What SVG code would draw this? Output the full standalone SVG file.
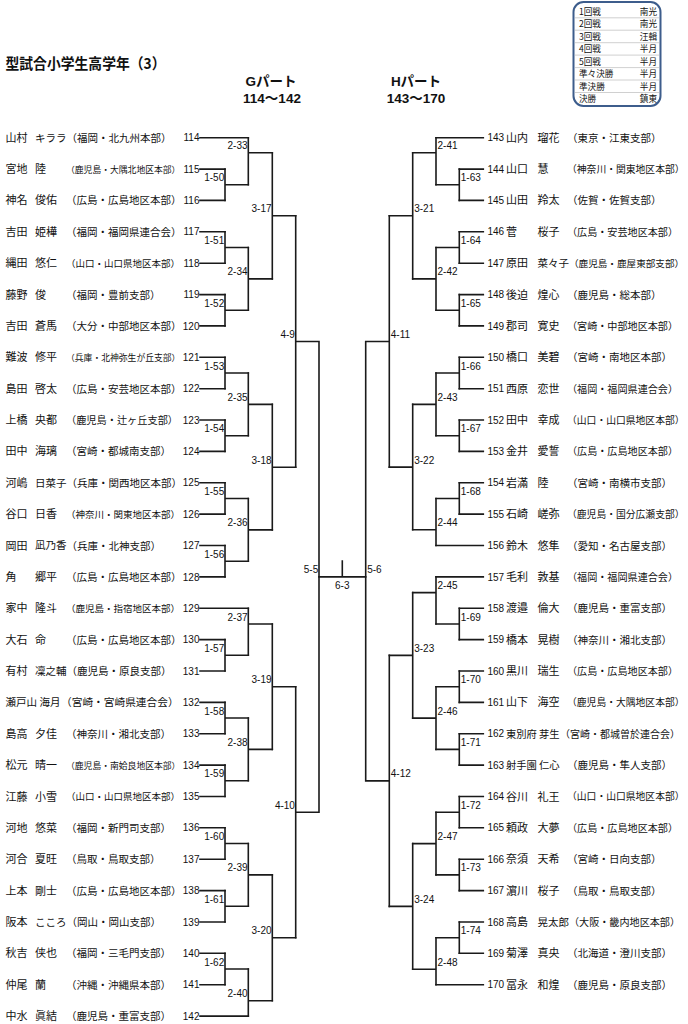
<svg xmlns="http://www.w3.org/2000/svg" width="688" height="1024" viewBox="0 0 688 1024">
<style>
.t{font-family:"Noto Sans CJK JP","Noto Sans",sans-serif;fill:#111}
.nm{font-size:11px}
.n3{font-size:10.5px}
.af{font-size:10.5px}
.a12{font-size:9.5px}
.a13{font-size:8.8px}
.r11{font-size:10.1px}
.r12{font-size:9.8px}
.num{font-family:"Liberation Sans",Arial,sans-serif;font-size:10px;fill:#111}
.lb{font-family:"Liberation Sans",Arial,sans-serif;font-size:10px;fill:#111}
.le{text-anchor:end}
.hd{font-family:"Liberation Sans","Noto Sans CJK JP",sans-serif;font-size:13.5px;font-weight:bold;text-anchor:middle;fill:#111}
.ln{fill:none;stroke:#1a1a1a;stroke-width:1.6;stroke-linecap:square}
.lg{font-family:"Noto Sans CJK JP",sans-serif;font-size:8.6px;fill:#111}
</style>
<rect width="688" height="1024" fill="#fff"/>
<g id="title"><text class="t" x="5.5" y="69" font-size="15" font-weight="bold" textLength="160" lengthAdjust="spacingAndGlyphs">型試合小学生高学年（3）</text></g>
<g id="header-g"><text class="hd" x="271" y="86">Gパート</text><text class="hd" x="272" y="103">114〜142</text></g>
<g id="header-h"><text class="hd" x="416" y="86">Hパート</text><text class="hd" x="416" y="103">143〜170</text></g>
<g id="legend">
<rect x="573.5" y="2" width="87" height="104" rx="10" fill="#fff" stroke="#3d5d8c" stroke-width="2"/>
<path d="M575 17.8H659M575 30.2H659M575 42.7H659M575 55.1H659M575 67.6H659M575 80H659M575 92.5H659" stroke="#c4c4c4" stroke-width="0.8" fill="none"/>
<text class="lg" x="579" y="14.9">1回戦</text><text class="lg le" x="657" y="14.9">南光</text>
<text class="lg" x="579" y="27.3">2回戦</text><text class="lg le" x="657" y="27.3">南光</text>
<text class="lg" x="579" y="39.7">3回戦</text><text class="lg le" x="657" y="39.7">汪輯</text>
<text class="lg" x="579" y="52.2">4回戦</text><text class="lg le" x="657" y="52.2">半月</text>
<text class="lg" x="579" y="64.6">5回戦</text><text class="lg le" x="657" y="64.6">半月</text>
<text class="lg" x="579" y="77.1">準々決勝</text><text class="lg le" x="657" y="77.1">半月</text>
<text class="lg" x="579" y="89.5">準決勝</text><text class="lg le" x="657" y="89.5">半月</text>
<text class="lg" x="579" y="102">決勝</text><text class="lg le" x="657" y="102">鎮東</text>
</g>
<g id="connectors" class="ln">
<path d="M200 137.7H248.3M200 169.1H225M200 200.4H225M200 231.8H225M200 263.2H225M200 294.6H225M200 325.9H225M200 357.3H225M200 388.7H225M200 420H225M200 451.4H225M200 482.8H225M200 514.1H225M200 545.5H225M200 576.9H225M200 608.3H248.3M200 639.6H225M200 671H225M200 702.4H225M200 733.7H225M200 765.1H225M200 796.5H225M200 827.8H225M200 859.2H225M200 890.6H225M200 922H225M200 953.3H225M200 984.7H225M200 1016.1H248.3"/>
<path d="M225 169.1V200.4M225 184.8H248.3M225 231.8V263.2M225 247.5H248.3M225 294.6V325.9M225 310.2H248.3M225 357.3V388.7M225 373H248.3M225 420V451.4M225 435.7H248.3M225 482.8V514.1M225 498.5H248.3M225 545.5V576.9M225 561.2H248.3M225 639.6V671M225 655.3H248.3M225 702.4V733.7M225 718H248.3M225 765.1V796.5M225 780.8H248.3M225 827.8V859.2M225 843.5H248.3M225 890.6V922M225 906.3H248.3M225 953.3V984.7M225 969H248.3"/>
<path d="M248.3 137.7V184.8M248.3 152.7H272.3M248.3 247.5V310.2M248.3 278.9H272.3M248.3 373V435.7M248.3 404.4H272.3M248.3 498.5V561.2M248.3 529.9H272.3M248.3 608.3V655.3M248.3 624H272.3M248.3 718V780.8M248.3 749.4H272.3M248.3 843.5V906.3M248.3 874.9H272.3M248.3 969V1016.1M248.3 1000.7H272.3"/>
<path d="M272.3 152.7V278.9M272.3 215.8H295.7M272.3 404.4V529.9M272.3 467.2H295.7M272.3 624V749.4M272.3 686.7H295.7M272.3 874.9V1000.7M272.3 937.8H295.7"/>
<path d="M295.7 215.8V467.2M295.7 341.5H319M295.7 686.7V937.8M295.7 812.3H319M319 341.5V812.3"/>
<path d="M319 576.9H365.7M342.3 561V576.9"/>
<path d="M483.3 137.7H436M483.3 169.1H459.3M483.3 200.4H459.3M483.3 231.8H459.3M483.3 263.2H459.3M483.3 294.6H459.3M483.3 325.9H459.3M483.3 357.3H459.3M483.3 388.7H459.3M483.3 420H459.3M483.3 451.4H459.3M483.3 482.8H459.3M483.3 514.1H459.3M483.3 545.5H436M483.3 576.9H436M483.3 608.3H459.3M483.3 639.6H459.3M483.3 671H459.3M483.3 702.4H459.3M483.3 733.7H459.3M483.3 765.1H459.3M483.3 796.5H459.3M483.3 827.8H459.3M483.3 859.2H459.3M483.3 890.6H459.3M483.3 922H459.3M483.3 953.3H459.3M483.3 984.7H436"/>
<path d="M459.3 169.1V200.4M459.3 184.8H436M459.3 231.8V263.2M459.3 247.5H436M459.3 294.6V325.9M459.3 310.2H436M459.3 357.3V388.7M459.3 373H436M459.3 420V451.4M459.3 435.7H436M459.3 482.8V514.1M459.3 498.5H436M459.3 608.3V639.6M459.3 624H436M459.3 671V702.4M459.3 686.7H436M459.3 733.7V765.1M459.3 749.4H436M459.3 796.5V827.8M459.3 812.2H436M459.3 859.2V890.6M459.3 874.9H436M459.3 922V953.3M459.3 937.7H436"/>
<path d="M436 137.7V184.8M436 152.7H412.7M436 247.5V310.2M436 278.9H412.7M436 373V435.7M436 404.4H412.7M436 498.5V545.5M436 529.8H412.7M436 576.9V624M436 592.6H412.7M436 686.7V749.4M436 718.1H412.7M436 812.2V874.9M436 843.6H412.7M436 937.7V984.7M436 969.2H412.7"/>
<path d="M412.7 152.7V278.9M412.7 215.8H389.3M412.7 404.4V529.8M412.7 467.1H389.3M412.7 592.6V718.1M412.7 655.4H389.3M412.7 843.6V969.2M412.7 906.4H389.3"/>
<path d="M389.3 215.8V467.1M389.3 341.5H365.7M389.3 655.4V906.4M389.3 780.9H365.7M365.7 341.5V780.9"/>
</g>
<g id="match-labels">
<g class="lb le">
<text x="224.2" y="181.3">1-50</text><text x="224.2" y="244">1-51</text><text x="224.2" y="306.7">1-52</text><text x="224.2" y="369.5">1-53</text><text x="224.2" y="432.2">1-54</text><text x="224.2" y="495">1-55</text><text x="224.2" y="557.7">1-56</text><text x="224.2" y="651.8">1-57</text><text x="224.2" y="714.5">1-58</text><text x="224.2" y="777.3">1-59</text><text x="224.2" y="840">1-60</text><text x="224.2" y="902.8">1-61</text><text x="224.2" y="965.5">1-62</text>
<text x="247.5" y="149.2">2-33</text><text x="247.5" y="275.4">2-34</text><text x="247.5" y="400.9">2-35</text><text x="247.5" y="526.4">2-36</text><text x="247.5" y="620.5">2-37</text><text x="247.5" y="745.9">2-38</text><text x="247.5" y="871.4">2-39</text><text x="247.5" y="997.2">2-40</text>
<text x="271.5" y="212.3">3-17</text><text x="271.5" y="463.7">3-18</text><text x="271.5" y="683.2">3-19</text><text x="271.5" y="934.3">3-20</text>
<text x="294.9" y="338">4-9</text><text x="294.9" y="808.8">4-10</text>
<text x="318.2" y="573.4">5-5</text>
</g>
<g class="lb">
<text x="460.8" y="181.3">1-63</text><text x="460.8" y="244">1-64</text><text x="460.8" y="306.7">1-65</text><text x="460.8" y="369.5">1-66</text><text x="460.8" y="432.2">1-67</text><text x="460.8" y="495">1-68</text><text x="460.8" y="620.5">1-69</text><text x="460.8" y="683.2">1-70</text><text x="460.8" y="745.9">1-71</text><text x="460.8" y="808.7">1-72</text><text x="460.8" y="871.4">1-73</text><text x="460.8" y="934.2">1-74</text>
<text x="437.5" y="149.2">2-41</text><text x="437.5" y="275.4">2-42</text><text x="437.5" y="400.9">2-43</text><text x="437.5" y="526.3">2-44</text><text x="437.5" y="589.1">2-45</text><text x="437.5" y="714.6">2-46</text><text x="437.5" y="840.1">2-47</text><text x="437.5" y="965.7">2-48</text>
<text x="414.2" y="212.3">3-21</text><text x="414.2" y="463.6">3-22</text><text x="414.2" y="651.9">3-23</text><text x="414.2" y="902.9">3-24</text>
<text x="390.8" y="338">4-11</text><text x="390.8" y="777.4">4-12</text>
<text x="367.2" y="573.4">5-6</text>
<text x="342.3" y="589" text-anchor="middle">6-3</text>
</g>
</g>
<g id="e114"><text class="t nm" x="5.5" y="141.7">山村</text><text class="t n3" x="35" y="141.6">キララ</text><text class="t af" x="66.5" y="141.7">（福岡・北九州本部）</text><text class="num le" x="199.5" y="141.3">114</text></g>
<g id="e115"><text class="t nm" x="5.5" y="173.1">宮地</text><text class="t nm" x="35" y="173.1">陸</text><text class="t a13" x="66" y="172.8">（鹿児島・大隅北地区本部）</text><text class="num le" x="199.5" y="172.7">115</text></g>
<g id="e116"><text class="t nm" x="5.5" y="204.4">神名</text><text class="t nm" x="35" y="204.4">俊佑</text><text class="t af" x="66" y="204.4">（広島・広島地区本部）</text><text class="num le" x="199.5" y="204">116</text></g>
<g id="e117"><text class="t nm" x="5.5" y="235.8">吉田</text><text class="t nm" x="35" y="235.8">姫樺</text><text class="t af" x="66" y="235.8">（福岡・福岡県連合会）</text><text class="num le" x="199.5" y="235.4">117</text></g>
<g id="e118"><text class="t nm" x="5.5" y="267.2">縄田</text><text class="t nm" x="35" y="267.2">悠仁</text><text class="t a12" x="66" y="267">（山口・山口県地区本部）</text><text class="num le" x="199.5" y="266.8">118</text></g>
<g id="e119"><text class="t nm" x="5.5" y="298.6">藤野</text><text class="t nm" x="35" y="298.6">俊</text><text class="t af" x="66" y="298.6">（福岡・豊前支部）</text><text class="num le" x="199.5" y="298.2">119</text></g>
<g id="e120"><text class="t nm" x="5.5" y="329.9">吉田</text><text class="t nm" x="35" y="329.9">蒼馬</text><text class="t af" x="66" y="329.9">（大分・中部地区本部）</text><text class="num le" x="199.5" y="329.5">120</text></g>
<g id="e121"><text class="t nm" x="5.5" y="361.3">難波</text><text class="t nm" x="35" y="361.3">修平</text><text class="t a13" x="66" y="361">（兵庫・北神弥生が丘支部）</text><text class="num le" x="199.5" y="360.9">121</text></g>
<g id="e122"><text class="t nm" x="5.5" y="392.7">島田</text><text class="t nm" x="35" y="392.7">啓太</text><text class="t af" x="66" y="392.7">（広島・安芸地区本部）</text><text class="num le" x="199.5" y="392.3">122</text></g>
<g id="e123"><text class="t nm" x="5.5" y="424">上橋</text><text class="t nm" x="35" y="424">央都</text><text class="t af" x="66" y="424" style="font-size:10.2px">（鹿児島・辻ヶ丘支部）</text><text class="num le" x="199.5" y="423.6">123</text></g>
<g id="e124"><text class="t nm" x="5.5" y="455.4">田中</text><text class="t nm" x="35" y="455.4">海璃</text><text class="t af" x="66" y="455.4">（宮崎・都城南支部）</text><text class="num le" x="199.5" y="455">124</text></g>
<g id="e125"><text class="t nm" x="5.5" y="486.8">河嶋</text><text class="t n3" x="35" y="486.7">日菜子</text><text class="t af" x="66.5" y="486.8">（兵庫・関西地区本部）</text><text class="num le" x="199.5" y="486.4">125</text></g>
<g id="e126"><text class="t nm" x="5.5" y="518.1">谷口</text><text class="t nm" x="35" y="518.1">日香</text><text class="t a12" x="66" y="517.9">（神奈川・関東地区本部）</text><text class="num le" x="199.5" y="517.7">126</text></g>
<g id="e127"><text class="t nm" x="5.5" y="549.5">岡田</text><text class="t n3" x="35" y="549.4">凪乃香</text><text class="t af" x="66.5" y="549.5">（兵庫・北神支部）</text><text class="num le" x="199.5" y="549.1">127</text></g>
<g id="e128"><text class="t nm" x="5.5" y="580.9">角</text><text class="t nm" x="35" y="580.9">郷平</text><text class="t af" x="66" y="580.9">（広島・広島地区本部）</text><text class="num le" x="199.5" y="580.5">128</text></g>
<g id="e129"><text class="t nm" x="5.5" y="612.3">家中</text><text class="t nm" x="35" y="612.3">隆斗</text><text class="t a12" x="66" y="612.1">（鹿児島・指宿地区本部）</text><text class="num le" x="199.5" y="611.9">129</text></g>
<g id="e130"><text class="t nm" x="5.5" y="643.6">大石</text><text class="t nm" x="35" y="643.6">命</text><text class="t af" x="66" y="643.6">（広島・広島地区本部）</text><text class="num le" x="199.5" y="643.2">130</text></g>
<g id="e131"><text class="t nm" x="5.5" y="675">有村</text><text class="t n3" x="35" y="674.9">凜之輔</text><text class="t af" x="66.5" y="675">（鹿児島・原良支部）</text><text class="num le" x="199.5" y="674.6">131</text></g>
<g id="e132"><text class="t n3" x="5.5" y="706.3">瀬戸山</text><text class="t n3" x="39.5" y="706.3">海月</text><text class="t af" x="61" y="706.4" style="font-size:10.7px">（宮崎・宮崎県連合会）</text><text class="num le" x="199.5" y="706">132</text></g>
<g id="e133"><text class="t nm" x="5.5" y="737.7">島高</text><text class="t nm" x="35" y="737.7">夕佳</text><text class="t af" x="66" y="737.7">（神奈川・湘北支部）</text><text class="num le" x="199.5" y="737.3">133</text></g>
<g id="e134"><text class="t nm" x="5.5" y="769.1">松元</text><text class="t nm" x="35" y="769.1">晴一</text><text class="t a13" x="66" y="768.8">（鹿児島・南姶良地区本部）</text><text class="num le" x="199.5" y="768.7">134</text></g>
<g id="e135"><text class="t nm" x="5.5" y="800.5">江藤</text><text class="t nm" x="35" y="800.5">小雪</text><text class="t a12" x="66" y="800.3">（山口・山口県地区本部）</text><text class="num le" x="199.5" y="800.1">135</text></g>
<g id="e136"><text class="t nm" x="5.5" y="831.8">河地</text><text class="t nm" x="35" y="831.8">悠菜</text><text class="t af" x="66" y="831.8">（福岡・新門司支部）</text><text class="num le" x="199.5" y="831.4">136</text></g>
<g id="e137"><text class="t nm" x="5.5" y="863.2">河合</text><text class="t nm" x="35" y="863.2">夏旺</text><text class="t af" x="66" y="863.2">（鳥取・鳥取支部）</text><text class="num le" x="199.5" y="862.8">137</text></g>
<g id="e138"><text class="t nm" x="5.5" y="894.6">上本</text><text class="t nm" x="35" y="894.6">剛士</text><text class="t af" x="66" y="894.6">（広島・広島地区本部）</text><text class="num le" x="199.5" y="894.2">138</text></g>
<g id="e139"><text class="t nm" x="5.5" y="926">阪本</text><text class="t n3" x="35" y="925.9">こころ</text><text class="t af" x="66.5" y="926">（岡山・岡山支部）</text><text class="num le" x="199.5" y="925.6">139</text></g>
<g id="e140"><text class="t nm" x="5.5" y="957.3">秋吉</text><text class="t nm" x="35" y="957.3">侠也</text><text class="t af" x="66" y="957.3">（福岡・三毛門支部）</text><text class="num le" x="199.5" y="956.9">140</text></g>
<g id="e141"><text class="t nm" x="5.5" y="988.7">仲尾</text><text class="t nm" x="35" y="988.7">蘭</text><text class="t af" x="66" y="988.7">（沖縄・沖縄県本部）</text><text class="num le" x="199.5" y="988.3">141</text></g>
<g id="e142"><text class="t nm" x="5.5" y="1020.1">中水</text><text class="t nm" x="35" y="1020.1">眞結</text><text class="t af" x="66" y="1020.1">（鹿児島・重富支部）</text><text class="num le" x="199.5" y="1019.7">142</text></g>
<g id="e143"><text class="num" x="487.5" y="141.3">143</text><text class="t nm" x="506" y="141.7">山内</text><text class="t nm" x="537.5" y="141.7">瑠花</text><text class="t af" x="567" y="141.7">（東京・江東支部）</text></g>
<g id="e144"><text class="num" x="487.5" y="172.7">144</text><text class="t nm" x="506" y="173.1">山口</text><text class="t nm" x="537.5" y="173.1">慧</text><text class="t r12" x="567" y="172.9">（神奈川・関東地区本部）</text></g>
<g id="e145"><text class="num" x="487.5" y="204">145</text><text class="t nm" x="506" y="204.4">山田</text><text class="t nm" x="537.5" y="204.4">羚太</text><text class="t af" x="567" y="204.4">（佐賀・佐賀支部）</text></g>
<g id="e146"><text class="num" x="487.5" y="235.4">146</text><text class="t nm" x="506" y="235.8">菅</text><text class="t nm" x="537.5" y="235.8">桜子</text><text class="t r11" x="567" y="235.7">（広島・安芸地区本部）</text></g>
<g id="e147"><text class="num" x="487.5" y="266.8">147</text><text class="t nm" x="506" y="267.2">原田</text><text class="t n3" x="537.5" y="267.1">菜々子</text><text class="t af" x="569" y="267" style="font-size:9.6px">（鹿児島・鹿屋東部支部）</text></g>
<g id="e148"><text class="num" x="487.5" y="298.2">148</text><text class="t nm" x="506" y="298.6">後迫</text><text class="t nm" x="537.5" y="298.6">煌心</text><text class="t af" x="567" y="298.6">（鹿児島・総本部）</text></g>
<g id="e149"><text class="num" x="487.5" y="329.5">149</text><text class="t nm" x="506" y="329.9">郡司</text><text class="t nm" x="537.5" y="329.9">寛史</text><text class="t r11" x="567" y="329.8">（宮崎・中部地区本部）</text></g>
<g id="e150"><text class="num" x="487.5" y="360.9">150</text><text class="t nm" x="506" y="361.3">橋口</text><text class="t nm" x="537.5" y="361.3">美碧</text><text class="t af" x="567" y="361.3">（宮崎・南地区本部）</text></g>
<g id="e151"><text class="num" x="487.5" y="392.3">151</text><text class="t nm" x="506" y="392.7">西原</text><text class="t nm" x="537.5" y="392.7">恋世</text><text class="t r11" x="567" y="392.6">（福岡・福岡県連合会）</text></g>
<g id="e152"><text class="num" x="487.5" y="423.6">152</text><text class="t nm" x="506" y="424">田中</text><text class="t nm" x="537.5" y="424">幸成</text><text class="t r12" x="567" y="423.8">（山口・山口県地区本部）</text></g>
<g id="e153"><text class="num" x="487.5" y="455">153</text><text class="t nm" x="506" y="455.4">金井</text><text class="t nm" x="537.5" y="455.4">愛誓</text><text class="t r11" x="567" y="455.3">（広島・広島地区本部）</text></g>
<g id="e154"><text class="num" x="487.5" y="486.4">154</text><text class="t nm" x="506" y="486.8">岩滿</text><text class="t nm" x="537.5" y="486.8">陸</text><text class="t af" x="567" y="486.8">（宮崎・南横市支部）</text></g>
<g id="e155"><text class="num" x="487.5" y="517.7">155</text><text class="t nm" x="506" y="518.1">石崎</text><text class="t nm" x="537.5" y="518.1">嵯弥</text><text class="t r12" x="567" y="517.9">（鹿児島・国分広瀬支部）</text></g>
<g id="e156"><text class="num" x="487.5" y="549.1">156</text><text class="t nm" x="506" y="549.5">鈴木</text><text class="t nm" x="537.5" y="549.5">悠隼</text><text class="t af" x="567" y="549.5">（愛知・名古屋支部）</text></g>
<g id="e157"><text class="num" x="487.5" y="580.5">157</text><text class="t nm" x="506" y="580.9">毛利</text><text class="t nm" x="537.5" y="580.9">敦基</text><text class="t r11" x="567" y="580.8">（福岡・福岡県連合会）</text></g>
<g id="e158"><text class="num" x="487.5" y="611.9">158</text><text class="t nm" x="506" y="612.3">渡邉</text><text class="t nm" x="537.5" y="612.3">倫大</text><text class="t af" x="567" y="612.3">（鹿児島・重富支部）</text></g>
<g id="e159"><text class="num" x="487.5" y="643.2">159</text><text class="t nm" x="506" y="643.6">橋本</text><text class="t nm" x="537.5" y="643.6">晃樹</text><text class="t af" x="567" y="643.6">（神奈川・湘北支部）</text></g>
<g id="e160"><text class="num" x="487.5" y="674.6">160</text><text class="t nm" x="506" y="675">黒川</text><text class="t nm" x="537.5" y="675">瑞生</text><text class="t r11" x="567" y="674.9">（広島・広島地区本部）</text></g>
<g id="e161"><text class="num" x="487.5" y="706">161</text><text class="t nm" x="506" y="706.4">山下</text><text class="t nm" x="537.5" y="706.4">海空</text><text class="t r12" x="567" y="706.2">（鹿児島・大隅地区本部）</text></g>
<g id="e162"><text class="num" x="487.5" y="737.3">162</text><text class="t nm" x="506" y="737.7" style="font-size:10.3px">東別府</text><text class="t nm" x="539" y="737.7" style="font-size:10.3px">芽生</text><text class="t af" x="560" y="737.6" style="font-size:10px">（宮崎・都城曽於連合会）</text></g>
<g id="e163"><text class="num" x="487.5" y="768.7">163</text><text class="t nm" x="506" y="769.1" style="font-size:10.3px">射手園</text><text class="t nm" x="539" y="769.1" style="font-size:10.3px">仁心</text><text class="t af" x="567" y="769.1">（鹿児島・隼人支部）</text></g>
<g id="e164"><text class="num" x="487.5" y="800.1">164</text><text class="t nm" x="506" y="800.5">谷川</text><text class="t nm" x="537.5" y="800.5">礼王</text><text class="t r12" x="567" y="800.3">（山口・山口県地区本部）</text></g>
<g id="e165"><text class="num" x="487.5" y="831.4">165</text><text class="t nm" x="506" y="831.8">頼政</text><text class="t nm" x="537.5" y="831.8">大夢</text><text class="t r11" x="567" y="831.7">（広島・広島地区本部）</text></g>
<g id="e166"><text class="num" x="487.5" y="862.8">166</text><text class="t nm" x="506" y="863.2">奈須</text><text class="t nm" x="537.5" y="863.2">天希</text><text class="t af" x="567" y="863.2">（宮崎・日向支部）</text></g>
<g id="e167"><text class="num" x="487.5" y="894.2">167</text><text class="t nm" x="506" y="894.6">濵川</text><text class="t nm" x="537.5" y="894.6">桜子</text><text class="t af" x="567" y="894.6">（鳥取・鳥取支部）</text></g>
<g id="e168"><text class="num" x="487.5" y="925.6">168</text><text class="t nm" x="506" y="926">高島</text><text class="t n3" x="537.5" y="925.9">晃太郎</text><text class="t r11" x="569" y="925.9">（大阪・畿内地区本部）</text></g>
<g id="e169"><text class="num" x="487.5" y="956.9">169</text><text class="t nm" x="506" y="957.3">菊澤</text><text class="t nm" x="537.5" y="957.3">真央</text><text class="t af" x="567" y="957.3">（北海道・澄川支部）</text></g>
<g id="e170"><text class="num" x="487.5" y="988.3">170</text><text class="t nm" x="506" y="988.7">冨永</text><text class="t nm" x="537.5" y="988.7">和煌</text><text class="t af" x="567" y="988.7">（鹿児島・原良支部）</text></g>
</svg>
